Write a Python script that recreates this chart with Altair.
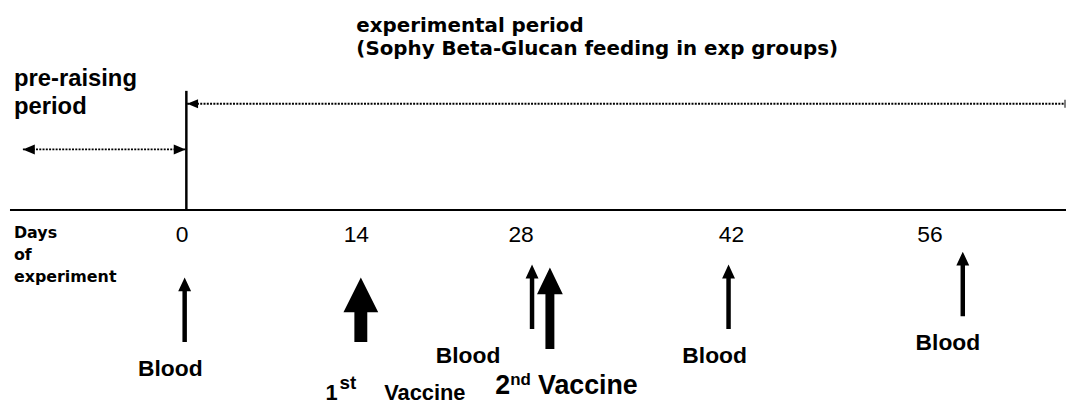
import altair as alt
import pandas as pd

# ---------------- data ----------------
DAYS = [0, 14, 28, 42, 56]
DAY_LABELS = ["0", "14", "28", "42", "56"]
BLOOD_DAYS = [0, 28, 42, 56]
BLOOD_LABEL = "Blood"
VACCINE_DAYS = [14, 28]
VACCINE_NUM = ["1", "2"]
VACCINE_SUP = ["st", "nd"]
VACCINE_WORD = "Vaccine"
AXIS_TITLE = ["Days", "of", "experiment"]
PRE_LABEL = ["pre-raising", "period"]
EXP_LABEL = ["experimental period", "(Sophy Beta-Glucan feeding in exp groups)"]
PRE_START, EXP_END = -14, 70   # conceptual ends of the drawn timeline

# ---------------- layout (pixels of the 1074x400 picture) ----------------
M = 8                       # page margin
W, H = 1066, 392
ANCHOR_PX = [10, 183.5, 359, 525, 737, 937, 1074]   # where each timeline day sits (not to scale)
x_scale = alt.Scale(domain=[PRE_START] + DAYS + [EXP_END], range=[p - M for p in ANCHOR_PX])

BLOOD_DX = [2.5, 11, -3, 33]
BLOOD_TIP = [278, 265, 265, 252]
BLOOD_LBL_DX = [-12, -53.5, -17, 18]
BLOOD_LBL_Y = [377, 364, 364, 351]
VAC_DX = [4.5, 29]
VAC_TIP = [278, 268]

SANS = "Liberation Sans"
WIDE = "DejaVu Sans"


def X(field="day"):
    return alt.X(f"{field}:Q", scale=x_scale, axis=None)


def texts(rows, font, weight="bold", align="left"):
    """rows: (day, dx, baseline_y, label, font_size) -> one layer each"""
    out = []
    for day, dx, y, label, fs in rows:
        df = pd.DataFrame({"day": [day], "label": [label]})
        out.append(alt.Chart(df).mark_text(
            font=font, fontWeight=weight, fontSize=fs, align=align,
            baseline="alphabetic", color="black", xOffset=dx
        ).encode(x=X(), y=alt.value(y - M), text="label:N"))
    return out


def points(rows, shape):
    """rows: (day, dx, tip_y) -> one layer each"""
    out = []
    for day, dx, y in rows:
        df = pd.DataFrame({"day": [day]})
        out.append(alt.Chart(df).mark_point(
            shape=shape, size=4, filled=True, color="black", opacity=1,
            strokeWidth=0, xOffset=dx
        ).encode(x=X(), y=alt.value(y - M)))
    return out


def hrule(start, end, y, x_off=0, x2_off=0, **kw):
    df = pd.DataFrame({"start": [start], "end": [end]})
    return alt.Chart(df).mark_rule(xOffset=x_off, x2Offset=x2_off, **kw).encode(
        x=X("start"), x2="end:Q", y=alt.value(y - M)
    )


def vrule(day, y1, y2, x_off=0, **kw):
    df = pd.DataFrame({"day": [day]})
    return alt.Chart(df).mark_rule(xOffset=x_off, **kw).encode(
        x=X(), y=alt.value(y1 - M), y2=alt.value(y2 - M)
    )


def up_arrow(head_w, head_h, shaft_w, length):
    hw, sw = head_w / 2, shaft_w / 2
    return (f"M0,0L{hw},{head_h}L{sw},{head_h}L{sw},{length}"
            f"L{-sw},{length}L{-sw},{head_h}L{-hw},{head_h}Z")


BLOOD_ARROW = up_arrow(13, 14, 4.5, 65)
VAC1_ARROW = up_arrow(35, 35, 13, 65)
VAC2_ARROW = up_arrow(26, 27, 9, 82)
HEAD_LEFT = "M0,0L12,-5L12,5Z"
HEAD_RIGHT = "M0,0L-12,-5L-12,5Z"
HEAD_LEFT_S = "M0,0L11,-4.5L11,4.5Z"
DOTTED = dict(strokeWidth=1.8, strokeDash=[2, 1.3], color="black")

layers = []
# time axis line and day-0 marker
layers.append(hrule(PRE_START, EXP_END, 210, strokeWidth=2, color="black"))
layers.append(vrule(0, 90, 210, x_off=4.2, strokeWidth=2.5, color="black"))
# period arrows (dotted)
layers.append(hrule(PRE_START, 0, 149, x_off=13, x2_off=3.5, **DOTTED))
layers.append(hrule(0, EXP_END, 103, x_off=5, x2_off=-1, **DOTTED))
layers.append(vrule(EXP_END, 99, 107, x_off=-1, strokeWidth=1.5, color="#555555"))
layers += points([(PRE_START, 13, 149)], HEAD_LEFT)
layers += points([(0, 3.5, 149)], HEAD_RIGHT)
layers += points([(0, 5, 103)], HEAD_LEFT_S)

# sampling / vaccination arrows
layers += points(list(zip(BLOOD_DAYS, BLOOD_DX, BLOOD_TIP)), BLOOD_ARROW)
layers += points([(VACCINE_DAYS[0], VAC_DX[0], VAC_TIP[0])], VAC1_ARROW)
layers += points([(VACCINE_DAYS[1], VAC_DX[1], VAC_TIP[1])], VAC2_ARROW)

# tick labels
layers += texts([(d, 0, 242, l, 23) for d, l in zip(DAYS, DAY_LABELS)], SANS,
                weight="normal", align="center")
# Blood labels
layers += texts([(d, dx, y, BLOOD_LABEL, 23) for d, dx, y in
                 zip(BLOOD_DAYS, BLOOD_LBL_DX, BLOOD_LBL_Y)], SANS, align="center")
# Vaccine labels
layers += texts([
    (VACCINE_DAYS[0], -31, 401, VACCINE_NUM[0], 22),
    (VACCINE_DAYS[0], -17, 390, VACCINE_SUP[0], 19),
    (VACCINE_DAYS[0], 28, 401, VACCINE_WORD, 22),
    (VACCINE_DAYS[1], -26, 395, VACCINE_NUM[1], 27),
    (VACCINE_DAYS[1], -11, 386, VACCINE_SUP[1], 17),
    (VACCINE_DAYS[1], 17, 395, VACCINE_WORD, 27),
], SANS)
# period labels
layers += texts([(PRE_START, 4, 85, PRE_LABEL[0], 24),
                 (PRE_START, 4, 113, PRE_LABEL[1], 24)], SANS)
layers += texts([(0, 175.5, 31, EXP_LABEL[0], 20),
                 (0, 175.5, 54, EXP_LABEL[1], 20)], WIDE)
# axis title
layers += texts([(PRE_START, 4, 238, AXIS_TITLE[0], 16),
                 (PRE_START, 4, 260, AXIS_TITLE[1], 16),
                 (PRE_START, 4, 283, AXIS_TITLE[2], 16)], WIDE)

chart = alt.layer(*layers).properties(
    width=W, height=H, padding=0,
    autosize=alt.AutoSizeParams(type="none"),
    background="white",
).configure_view(stroke=None)

chart.save("out.html", embed_options={"renderer": "svg", "actions": False})
